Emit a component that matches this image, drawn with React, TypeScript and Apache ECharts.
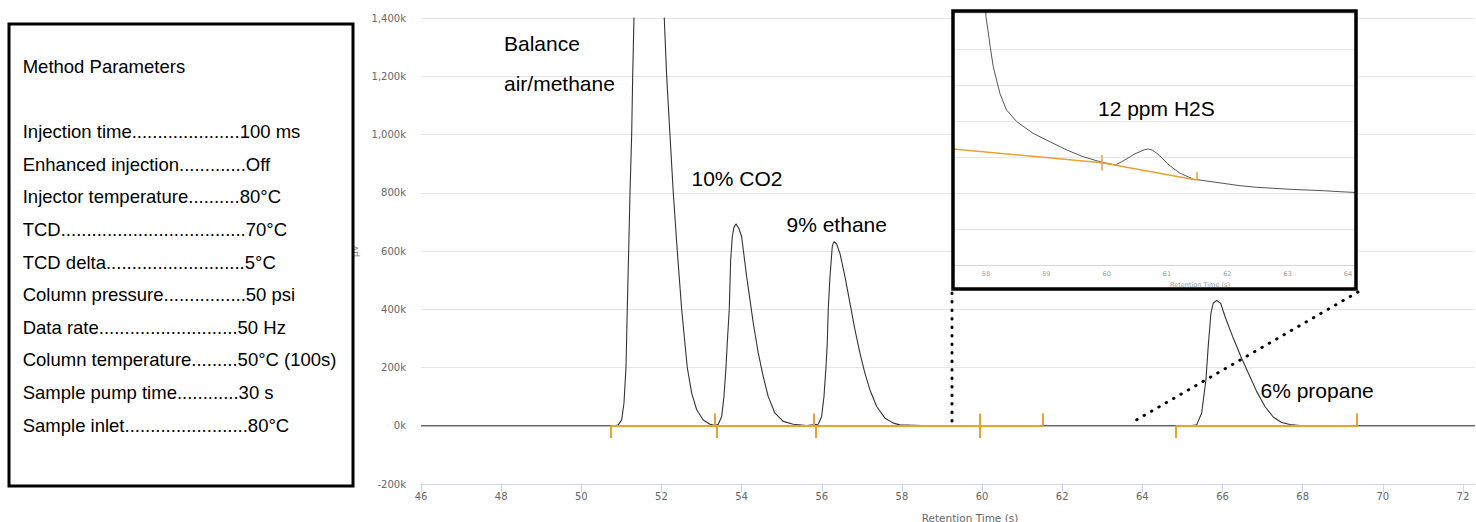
import React, { useEffect, useRef } from "react";
import * as echarts from "echarts";

// ---------- data ----------
const xTickValues = [46, 48, 50, 52, 54, 56, 58, 60, 62, 64, 66, 68, 70, 72];
const insetTickValues = [58, 59, 60, 61, 62, 63, 64];

// main chromatogram (retention time s, signal µV)
const mainTime = [
  46.0, 50.85, 50.923, 51.007, 51.065, 51.115, 51.147, 51.182, 51.215, 51.257, 51.282, 51.314,
  51.40, 51.48, 51.57, 51.66, 51.76, 51.88, 51.98, 52.07, 52.13, 52.212, 52.295, 52.395, 52.504,
  52.644, 52.754, 52.879, 53.043, 53.211, 53.335,
  53.418, 53.503, 53.56, 53.61, 53.642, 53.692, 53.727, 53.767, 53.81, 53.859, 53.93, 54.001,
  54.126, 54.209, 54.291, 54.416, 54.54, 54.665, 54.832, 55.039, 55.289, 55.623,
  55.913, 55.997, 56.055, 56.105, 56.137, 56.162, 56.205, 56.262, 56.29, 56.312, 56.37, 56.454,
  56.579, 56.704, 56.829, 56.953, 57.078, 57.203, 57.37, 57.577, 57.784, 57.951, 58.5, 60.0,
  65.2, 65.354, 65.479, 65.586, 65.643, 65.711, 65.768, 65.853, 65.952, 66.06, 66.267, 66.476,
  66.683, 66.851, 67.058, 67.265, 67.475, 67.682, 68.0, 72.3,
];
const mainSignal = [
  0, 0, 3000, 20000, 78000, 200000, 400000, 600000, 800000, 1000000, 1200000, 1400000,
  1850000, 2200000, 2450000, 2500000, 2350000, 2000000, 1700000, 1400000, 1200000, 1000000, 800000, 600000, 400000,
  200000, 112000, 55000, 20000, 5000, 1000,
  5000, 32000, 100000, 200000, 283000, 400000, 569000, 649000, 682000, 693000, 678000, 649000,
  512000, 432000, 352000, 249000, 169000, 100000, 43000, 15000, 5000, 1000,
  5000, 32000, 100000, 200000, 283000, 400000, 512000, 615000, 628000, 632000, 624000, 592000,
  512000, 421000, 329000, 249000, 180000, 123000, 66000, 26000, 9000, 3000, 1000, 0,
  0, 3000, 43000, 158000, 272000, 387000, 421000, 430000, 421000, 376000, 301000, 232000,
  169000, 118000, 66000, 30000, 11000, 4000, 0, 0,
];

// integration baselines and peak markers on the main chart
const baselineStart = [50.74, 64.84];
const baselineEnd = [61.51, 69.36];
const markerTimes = [50.74, 53.34, 53.39, 55.79, 55.86, 59.93, 61.51, 64.84, 69.36];
const markerKinds = ["down", "up", "down", "up", "down", "both", "up", "down", "up"];
const markerHeight = 42000;

// zoomed inset (H2S region)
const insetTime = [
  57.97, 58.0, 58.07, 58.12, 58.23, 58.34, 58.51, 58.78, 59.06, 59.34, 59.61, 59.89, 60.14,
  60.25, 60.39, 60.47, 60.55, 60.62, 60.69, 60.76, 60.83, 60.92, 61.0, 61.1, 61.22, 61.44,
  61.66, 61.93, 62.21, 62.49, 62.76, 63.04, 63.32, 63.59, 63.87, 64.2,
];
const insetSignal = [
  8500, 6900, 6064, 5508, 4769, 4306, 3981, 3658, 3425, 3194, 3008, 2869, 2778,
  2870, 3008, 3090, 3147, 3200, 3222, 3190, 3103, 2970, 2825, 2690, 2547, 2381,
  2333, 2269, 2203, 2158, 2131, 2103, 2083, 2064, 2036, 2008,
];
const insetBaseTime = [57.453, 59.92, 61.49];
const insetBaseValue = [3222, 2842, 2361];
const insetMarkerTime = [59.92, 61.49];
const insetMarkerLow = [2619, 2361];
const insetMarkerHigh = [3056, 2592];

const paramLines = [
  "Injection time" + ".".repeat(21) + "100 ms",
  "Enhanced injection" + ".".repeat(13) + "Off",
  "Injector temperature" + ".".repeat(10) + "80°C",
  "TCD" + ".".repeat(36) + "70°C",
  "TCD delta" + ".".repeat(27) + "5°C",
  "Column pressure" + ".".repeat(16) + "50 psi",
  "Data rate" + ".".repeat(27) + "50 Hz",
  "Column temperature" + ".".repeat(9) + "50°C (100s)",
  "Sample pump time" + ".".repeat(12) + "30 s",
  "Sample inlet" + ".".repeat(24) + "80°C",
];

const peakLabels = ["Balance", "air/methane", "10% CO2", "9% ethane", "6% propane"];
const insetLabel = "12 ppm H2S";

// ---------- styles ----------
const ORANGE = "#e9a133";
const GRID = "#e6e6e6";
const AXIS = "#ccd6eb";
const SANS = "'Liberation Sans', Arial, sans-serif";
const TICKFONT = "'DejaVu Sans', Verdana, sans-serif";

export default function App() {
  const ref = useRef<HTMLDivElement>(null);

  useEffect(() => {
    if (!ref.current) return;
    const chart = echarts.init(ref.current, undefined, { renderer: "svg" });

    const mainData = mainTime.map((t, i) => [t, mainSignal[i]]);
    const insetData = insetTime.map((t, i) => [t, insetSignal[i]]);

    const mainLines: any[] = [];
    baselineStart.forEach((s, i) => mainLines.push({ coords: [[s, 0], [baselineEnd[i], 0]] }));
    markerTimes.forEach((t, i) => {
      const k = markerKinds[i];
      const lo = k === "up" ? 0 : -markerHeight;
      const hi = k === "down" ? 0 : markerHeight;
      mainLines.push({ coords: [[t, lo], [t, hi]] });
    });

    const insetLines: any[] = [];
    for (let i = 0; i < insetBaseTime.length - 1; i++) {
      insetLines.push({
        coords: [
          [insetBaseTime[i], insetBaseValue[i]],
          [insetBaseTime[i + 1], insetBaseValue[i + 1]],
        ],
      });
    }
    insetMarkerTime.forEach((t, i) =>
      insetLines.push({ coords: [[t, insetMarkerLow[i]], [t, insetMarkerHigh[i]]] })
    );

    const textEl = (text: string, x: number, y: number, size: number, z = 4) => ({
      type: "text",
      x,
      y,
      z,
      style: {
        text,
        fontSize: size,
        fontFamily: SANS,
        fill: "#000",
        align: "left",
        verticalAlign: "middle",
      },
    });

    const paramY0 = 131.7;
    const paramStep = 32.6;

    const graphic: any[] = [
      {
        type: "rect",
        z: 1,
        shape: { x: 9, y: 24, width: 344, height: 462 },
        style: { fill: "#fff", stroke: "#000", lineWidth: 3 },
      },
      textEl("Method Parameters", 22.7, 66.7, 18.5, 2),
      ...paramLines.map((s, i) => textEl(s, 22.7, paramY0 + i * paramStep, 18.5, 2)),
      textEl(peakLabels[0], 504, 43.3, 21),
      textEl(peakLabels[1], 504, 83.3, 21),
      textEl(peakLabels[2], 691.5, 178.3, 21),
      textEl(peakLabels[3], 786.5, 224, 21),
      textEl(peakLabels[4], 1260.5, 390, 21),
      {
        type: "line",
        z: 4,
        shape: { x1: 952, y1: 293, x2: 952, y2: 424 },
        style: { stroke: "#000", lineWidth: 3, lineDash: [0.5, 8], lineCap: "round" },
      },
      {
        type: "line",
        z: 4,
        shape: { x1: 1358, y1: 292, x2: 1131, y2: 423 },
        style: { stroke: "#000", lineWidth: 3, lineDash: [0.5, 8], lineCap: "round" },
      },
      {
        type: "rect",
        z: 5,
        shape: { x: 953, y: 11, width: 403, height: 278 },
        style: { fill: "#fff" },
      },
      textEl(insetLabel, 1098, 108.3, 21, 12),
      {
        type: "text",
        x: 1200,
        y: 285,
        z: 12,
        style: {
          text: "Retention Time (s)",
          fontSize: 6.5,
          fontFamily: TICKFONT,
          fill: "#999",
          align: "center",
          verticalAlign: "middle",
        },
      },
      {
        type: "rect",
        z: 20,
        shape: { x: 953, y: 11, width: 403, height: 278 },
        style: { fill: "none", stroke: "#000", lineWidth: 3.5 },
      },
    ];

    chart.setOption({
      animation: false,
      backgroundColor: "#fff",
      grid: [
        { left: 421, top: 18, width: 1054, height: 466, outerBoundsMode: "none", containLabel: false },
        { left: 953, top: 12, width: 403, height: 253, z: 6, outerBoundsMode: "none", containLabel: false },
      ],
      xAxis: [
        {
          type: "value",
          gridIndex: 0,
          min: 46,
          max: 72.3,
          name: "Retention Time (s)",
          nameLocation: "middle",
          nameGap: 28,
          nameTextStyle: {
            color: "#666",
            fontSize: 10.5,
            fontFamily: TICKFONT,
            padding: [0, 0, 0, 44],
          },
          axisLine: { show: true, onZero: false, lineStyle: { color: AXIS, width: 1 } },
          axisTick: {
            show: true,
            length: 8,
            customValues: xTickValues,
            lineStyle: { color: AXIS, width: 1 },
          },
          axisLabel: {
            customValues: xTickValues,
            color: "#666",
            fontSize: 10,
            fontFamily: TICKFONT,
            margin: 7,
          },
          splitLine: { show: false },
        },
        {
          type: "value",
          gridIndex: 1,
          min: 57.453,
          max: 64.133,
          z: 10,
          axisLine: { show: true, onZero: false, lineStyle: { color: AXIS, width: 1 } },
          axisTick: { show: false },
          axisLabel: {
            customValues: insetTickValues,
            color: "#999",
            fontSize: 6.5,
            fontFamily: TICKFONT,
            margin: 5,
          },
          splitLine: { show: false },
        },
      ],
      yAxis: [
        {
          type: "value",
          gridIndex: 0,
          min: -200000,
          max: 1400000,
          interval: 200000,
          name: "µV",
          nameLocation: "middle",
          nameGap: 62,
          nameRotate: 90,
          nameTextStyle: { color: "#888", fontSize: 9, fontFamily: TICKFONT },
          axisLine: { show: false },
          axisTick: { show: false },
          axisLabel: {
            color: "#666",
            fontSize: 10,
            fontFamily: TICKFONT,
            margin: 15,
            formatter: (v: number) => (v / 1000).toLocaleString("en-US") + "k",
          },
          splitLine: { show: true, lineStyle: { color: GRID, width: 1 } },
        },
        {
          type: "value",
          gridIndex: 1,
          min: 0,
          max: 7028,
          interval: 1000,
          z: 10,
          axisLine: { show: false },
          axisTick: { show: false },
          axisLabel: { show: false },
          splitLine: { show: true, lineStyle: { color: GRID, width: 1 } },
        },
      ],
      series: [
        {
          type: "line",
          xAxisIndex: 0,
          yAxisIndex: 0,
          data: mainData,
          showSymbol: false,
          symbol: "none",
          z: 2,
          lineStyle: { color: "#333", width: 1.1 },
          silent: true,
        },
        {
          type: "lines",
          coordinateSystem: "cartesian2d",
          xAxisIndex: 0,
          yAxisIndex: 0,
          data: mainLines,
          z: 3,
          silent: true,
          lineStyle: { color: ORANGE, width: 2, opacity: 1 },
        },
        {
          type: "line",
          xAxisIndex: 1,
          yAxisIndex: 1,
          data: insetData,
          showSymbol: false,
          symbol: "none",
          z: 10,
          lineStyle: { color: "#555", width: 1 },
          silent: true,
        },
        {
          type: "lines",
          coordinateSystem: "cartesian2d",
          xAxisIndex: 1,
          yAxisIndex: 1,
          data: insetLines,
          z: 11,
          silent: true,
          lineStyle: { color: ORANGE, width: 1.5, opacity: 1 },
        },
      ],
      graphic,
    });

    return () => chart.dispose();
  }, []);

  return (
    <div
      ref={ref}
      style={{ position: "absolute", left: 0, top: 0, width: 1476, height: 522 }}
    />
  );
}
